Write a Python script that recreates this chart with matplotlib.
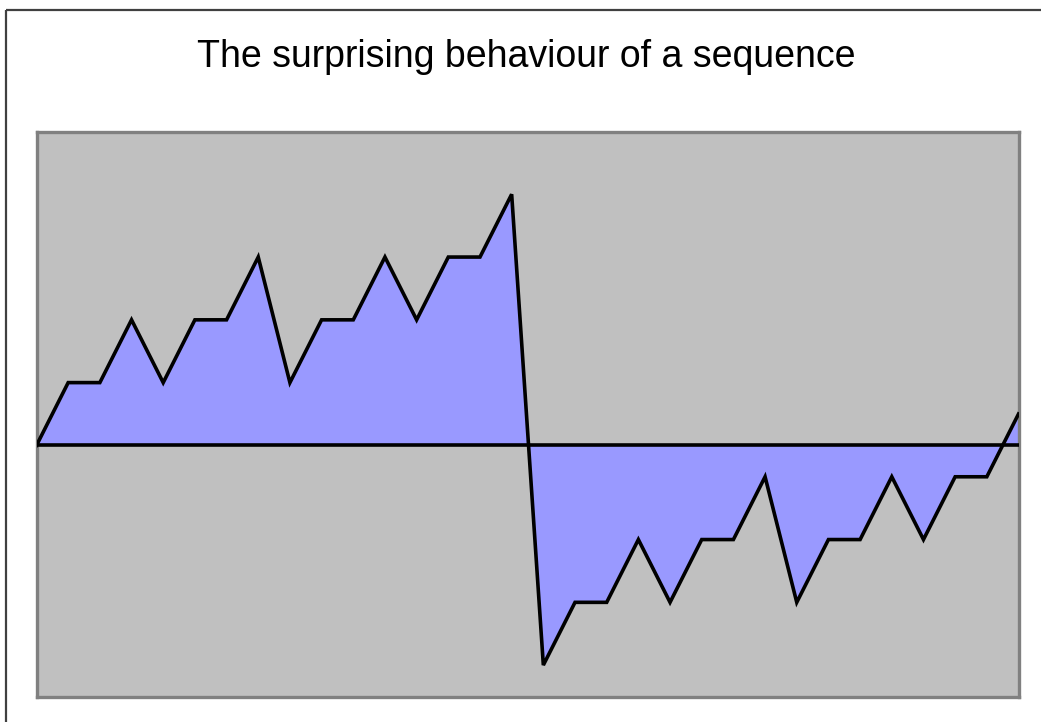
import matplotlib
matplotlib.use("Agg")
import matplotlib.pyplot as plt
from matplotlib.lines import Line2D

# Data (binary digit sums, second half shifted)
index = list(range(32))
values = [0, 1, 1, 2, 1, 2, 2, 3, 1, 2, 2, 3, 2, 3, 3, 4,
          -3.5, -2.5, -2.5, -1.5, -2.5, -1.5, -1.5, -0.5,
          -2.5, -1.5, -1.5, -0.5, -1.5, -0.5, -0.5, 0.5]
title = "The surprising behaviour of a sequence"

W, H = 1041, 722
fig = plt.figure(figsize=(W / 100, H / 100), dpi=100)
fig.patch.set_facecolor("white")

# outer chart border (left and top visible)
fig.add_artist(Line2D([6 / W, 6 / W], [0, 1 - 10 / H], color="#404040", lw=1.6,
                      transform=fig.transFigure, solid_capstyle="butt"))
fig.add_artist(Line2D([6 / W, 1], [1 - 10 / H, 1 - 10 / H], color="#404040", lw=1.6,
                      transform=fig.transFigure, solid_capstyle="butt"))

left, right, top, bottom = 36.5, 1018.5, 131.5, 696.5
ax = fig.add_axes([left / W, 1 - bottom / H, (right - left) / W, (bottom - top) / H])
ax.set_facecolor("#C0C0C0")
for s in ax.spines.values():
    s.set_color("#808080")
    s.set_linewidth(2.4)

ax.fill_between(index, values, 0, color="#9999FF", linewidth=0)
ax.axhline(0, color="black", lw=2.6, zorder=3)
ax.plot(index, values, color="black", lw=2.6, zorder=4, solid_joinstyle="miter")

ax.set_xlim(0, 31)
ax.set_ylim(-4, 5)
ax.set_xticks([])
ax.set_yticks([])

fig.text(526.5 / W, 1 - 67 / H, title, ha="center", va="baseline",
         fontsize=27, family="Liberation Sans", color="black")

fig.savefig("out.png", dpi=100)
